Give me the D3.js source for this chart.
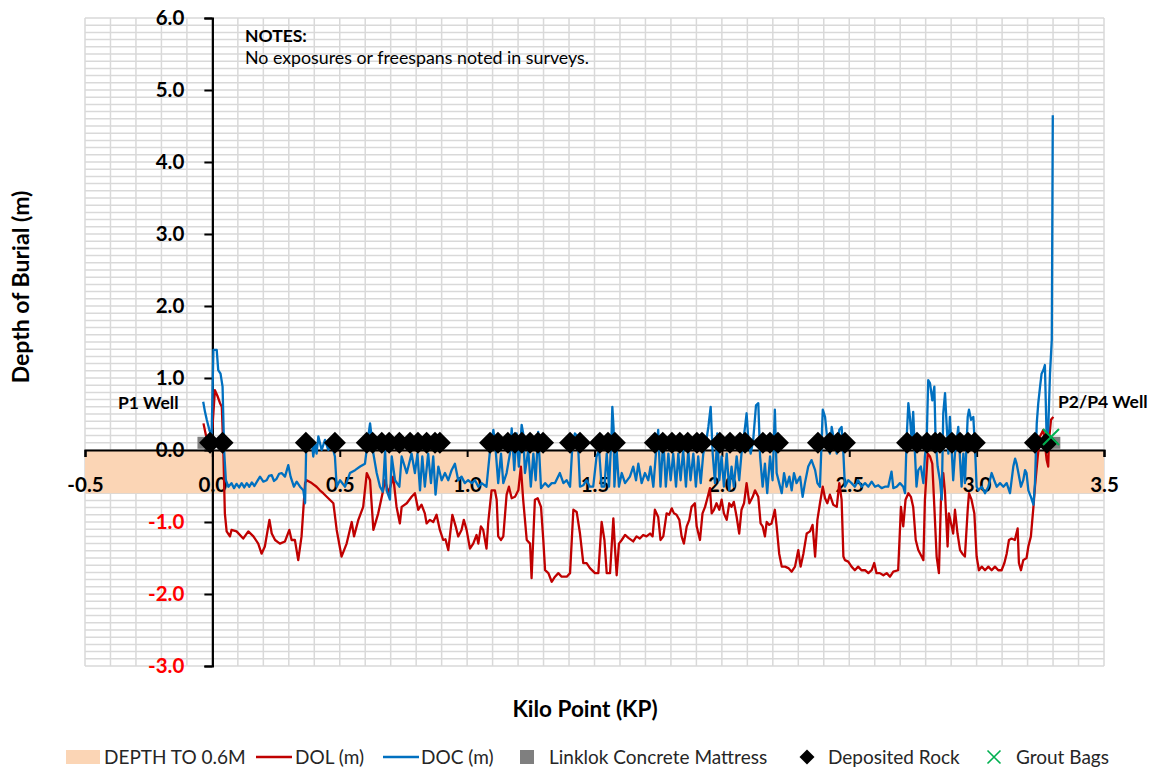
<!DOCTYPE html>
<html>
<head>
<meta charset="utf-8">
<script src="https://cdn.jsdelivr.net/npm/d3@7/dist/d3.min.js"></script>
<style>
  body { margin: 0; background: #fff; }
  svg { display: block; font-family: Lato, "Open Sans", sans-serif; }
</style>
</head>
<body>
<svg id="chart" width="1157" height="769"></svg>
<script>
// [KP, depth of lowest point]
var dolSeries = [
  [-0.035, 0.37], [-0.028, 0.25], [-0.02, 0.12], [-0.01, 0.10], [0.0, 0.30], [0.01, 0.83], [0.02, 0.75],
  [0.03, 0.65], [0.037, 0.60], [0.043, 0.0], [0.049, -0.88], [0.056, -1.13], [0.069, -1.20], [0.075, -1.11],
  [0.095, -1.13], [0.121, -1.23], [0.141, -1.13], [0.161, -1.20], [0.180, -1.30], [0.193, -1.44], [0.206, -1.34],
  [0.224, -0.97], [0.233, -1.16], [0.246, -1.25], [0.265, -1.30], [0.285, -1.27], [0.302, -1.11], [0.311, -1.25],
  [0.324, -1.25], [0.337, -1.53], [0.350, -1.20], [0.364, -0.46], [0.370, -0.42], [0.390, -0.46], [0.409, -0.51],
  [0.422, -0.56], [0.435, -0.60], [0.455, -0.67], [0.475, -0.74], [0.488, -1.11], [0.507, -1.48], [0.527, -1.30],
  [0.547, -1.00], [0.556, -1.20], [0.573, -0.97], [0.592, -0.79], [0.606, -0.32], [0.619, -0.42], [0.632, -1.11],
  [0.651, -0.88], [0.668, -0.60], [0.678, -0.42], [0.691, -0.60], [0.710, -0.37], [0.723, -0.79], [0.736, -1.02],
  [0.743, -0.79], [0.763, -0.74], [0.782, -0.65], [0.795, -0.60], [0.808, -0.83], [0.821, -0.76], [0.834, -0.88],
  [0.841, -1.02], [0.854, -0.97], [0.867, -1.00], [0.880, -0.90], [0.893, -1.11], [0.906, -1.25], [0.915, -1.24],
  [0.926, -1.39], [0.942, -0.90], [0.955, -1.06], [0.965, -1.20], [0.978, -1.11], [0.987, -0.97], [0.998, -1.11],
  [1.011, -1.37], [1.024, -1.30], [1.037, -1.18], [1.044, -1.30], [1.054, -1.06], [1.063, -1.11], [1.076, -1.37],
  [1.083, -1.00], [1.096, -0.56], [1.109, -0.56], [1.116, -0.69], [1.122, -1.20], [1.133, -1.25], [1.142, -1.20],
  [1.155, -0.62], [1.164, -0.51], [1.175, -0.67], [1.188, -0.65], [1.201, -0.56], [1.211, -0.23], [1.220, -0.69],
  [1.234, -1.25], [1.247, -1.30], [1.253, -1.78], [1.266, -0.69], [1.277, -0.67], [1.290, -0.79], [1.299, -1.25],
  [1.306, -1.67], [1.319, -1.71], [1.332, -1.83], [1.345, -1.76], [1.358, -1.71], [1.371, -1.76], [1.391, -1.76],
  [1.404, -1.71], [1.417, -0.83], [1.430, -0.86], [1.443, -1.16], [1.456, -1.57], [1.469, -1.57], [1.482, -1.64],
  [1.502, -1.71], [1.515, -1.71], [1.528, -1.00], [1.539, -1.25], [1.548, -1.71], [1.561, -1.71], [1.574, -0.95],
  [1.580, -1.34], [1.587, -1.74], [1.596, -1.30], [1.607, -1.25], [1.620, -1.18], [1.633, -1.22], [1.652, -1.27],
  [1.665, -1.20], [1.678, -1.23], [1.691, -1.18], [1.704, -1.20], [1.718, -1.16], [1.728, -1.20], [1.737, -0.83],
  [1.750, -0.93], [1.759, -1.25], [1.770, -1.20], [1.783, -0.88], [1.793, -0.90], [1.803, -0.81], [1.812, -0.88],
  [1.822, -0.90], [1.833, -0.97], [1.842, -1.20], [1.851, -1.30], [1.862, -1.06], [1.872, -0.97], [1.881, -0.79],
  [1.894, -0.74], [1.901, -1.06], [1.914, -1.25], [1.924, -0.88], [1.934, -0.79], [1.943, -0.67], [1.953, -0.53],
  [1.960, -0.88], [1.969, -0.83], [1.979, -0.74], [1.990, -0.83], [1.999, -0.69], [2.008, -0.88], [2.019, -0.97],
  [2.029, -0.74], [2.038, -0.79], [2.047, -0.72], [2.058, -0.93], [2.068, -1.16], [2.077, -0.83], [2.087, -0.74],
  [2.097, -0.46], [2.108, -0.74], [2.121, -0.65], [2.130, -0.56], [2.143, -0.65], [2.152, -1.02], [2.160, -1.06],
  [2.169, -1.20], [2.176, -1.00], [2.186, -1.04], [2.195, -1.02], [2.208, -0.83], [2.215, -1.06], [2.225, -1.44],
  [2.235, -1.62], [2.248, -1.62], [2.261, -1.64], [2.274, -1.69], [2.287, -1.62], [2.300, -1.39], [2.309, -1.62],
  [2.320, -1.44], [2.333, -1.16], [2.346, -1.13], [2.356, -1.04], [2.366, -1.48], [2.375, -0.97], [2.385, -0.74],
  [2.396, -0.51], [2.405, -0.67], [2.414, -0.74], [2.424, -0.62], [2.437, -0.76], [2.451, -0.79], [2.461, -0.46],
  [2.470, -0.69], [2.477, -1.48], [2.483, -1.53], [2.496, -1.55], [2.509, -1.62], [2.522, -1.67], [2.535, -1.62],
  [2.548, -1.67], [2.562, -1.67], [2.575, -1.71], [2.588, -1.67], [2.598, -1.57], [2.607, -1.71], [2.620, -1.71],
  [2.634, -1.74], [2.647, -1.71], [2.660, -1.76], [2.673, -1.69], [2.692, -1.67], [2.703, -0.79], [2.712, -1.06],
  [2.721, -0.69], [2.732, -0.60], [2.742, -0.65], [2.751, -0.79], [2.761, -1.25], [2.771, -1.39], [2.784, -1.48],
  [2.791, -1.53], [2.797, -0.69], [2.808, -0.05], [2.817, -0.09], [2.826, -0.19], [2.834, -0.79], [2.843, -1.48],
  [2.852, -1.71], [2.860, -0.69], [2.869, -0.32], [2.876, -0.60], [2.886, -1.34], [2.891, -0.88], [2.902, -1.06],
  [2.908, -1.16], [2.915, -0.83], [2.925, -1.16], [2.935, -1.39], [2.944, -1.44], [2.954, -1.48], [2.965, -0.83],
  [2.970, -0.60], [2.980, -0.69], [2.991, -0.88], [3.000, -1.48], [3.009, -1.67], [3.020, -1.62], [3.033, -1.67],
  [3.046, -1.62], [3.059, -1.67], [3.072, -1.62], [3.085, -1.67], [3.098, -1.67], [3.109, -1.57], [3.118, -1.44],
  [3.127, -1.25], [3.137, -1.23], [3.150, -1.25], [3.161, -1.09], [3.166, -1.57], [3.174, -1.67], [3.183, -1.53],
  [3.196, -1.50], [3.203, -1.34], [3.213, -1.20], [3.223, -0.79], [3.229, -0.51], [3.240, -0.09], [3.249, 0.19],
  [3.262, 0.28], [3.275, -0.14], [3.281, -0.23], [3.284, 0.14], [3.292, 0.42], [3.301, 0.46]
];

// [KP, depth of cover]
var docSeries = [
  [-0.036, 0.67], [-0.029, 0.53], [-0.022, 0.42], [-0.012, 0.28], [-0.003, 0.19], [0.004, 1.39], [0.017, 1.39],
  [0.023, 1.11], [0.032, 1.06], [0.040, 0.88], [0.046, 0.0], [0.053, -0.42], [0.063, -0.51], [0.075, -0.46],
  [0.085, -0.53], [0.095, -0.47], [0.105, -0.52], [0.115, -0.46], [0.125, -0.52], [0.135, -0.46], [0.145, -0.51],
  [0.155, -0.45], [0.165, -0.50], [0.175, -0.44], [0.187, -0.37], [0.200, -0.44], [0.213, -0.42], [0.222, -0.36],
  [0.233, -0.35], [0.242, -0.43], [0.252, -0.40], [0.262, -0.33], [0.272, -0.32], [0.285, -0.37], [0.298, -0.21],
  [0.307, -0.37], [0.320, -0.51], [0.331, -0.44], [0.344, -0.51], [0.357, -0.56], [0.364, -0.74], [0.368, 0.0],
  [0.373, 0.19], [0.390, 0.14], [0.396, -0.09], [0.403, 0.09], [0.409, -0.05], [0.416, 0.19], [0.429, 0.0],
  [0.442, 0.14], [0.455, 0.0], [0.468, 0.09], [0.481, -0.09], [0.488, -0.51], [0.501, -0.42], [0.521, -0.51],
  [0.540, -0.32], [0.560, -0.28], [0.580, -0.23], [0.599, -0.19], [0.612, 0.19], [0.619, 0.37], [0.625, 0.19],
  [0.632, -0.05], [0.645, -0.32], [0.658, -0.51], [0.669, -0.58], [0.678, 0.0], [0.684, -0.56], [0.697, -0.69],
  [0.704, -0.09], [0.717, -0.42], [0.734, -0.51], [0.743, -0.09], [0.763, -0.32], [0.782, -0.05], [0.795, -0.32],
  [0.805, -0.05], [0.815, -0.56], [0.824, -0.09], [0.834, -0.51], [0.847, -0.05], [0.858, -0.46], [0.867, -0.09],
  [0.876, -0.62], [0.887, -0.23], [0.900, -0.42], [0.913, -0.32], [0.926, -0.42], [0.939, -0.28], [0.952, -0.19],
  [0.965, -0.42], [0.978, -0.37], [0.991, -0.46], [1.004, -0.42], [1.018, -0.46], [1.031, -0.42], [1.044, -0.51],
  [1.057, -0.46], [1.076, -0.51], [1.090, 0.0], [1.103, 0.28], [1.112, 0.0], [1.122, -0.46], [1.133, -0.05],
  [1.142, -0.46], [1.155, -0.32], [1.168, -0.05], [1.175, 0.30], [1.185, -0.28], [1.194, 0.23], [1.203, -0.23],
  [1.214, 0.35], [1.220, 0.23], [1.227, -0.32], [1.240, 0.0], [1.250, -0.51], [1.260, -0.05], [1.269, -0.42],
  [1.279, 0.25], [1.290, -0.53], [1.306, -0.46], [1.319, -0.51], [1.332, -0.46], [1.345, -0.46], [1.364, -0.32],
  [1.378, -0.46], [1.391, -0.42], [1.404, -0.51], [1.413, 0.05], [1.423, 0.23], [1.434, 0.19], [1.443, -0.51],
  [1.456, -0.49], [1.469, -0.42], [1.482, -0.51], [1.495, -0.51], [1.508, -0.09], [1.518, 0.0], [1.528, -0.51],
  [1.539, -0.51], [1.548, -0.05], [1.557, -0.51], [1.567, 0.23], [1.570, 0.60], [1.575, 0.30], [1.578, -0.51],
  [1.587, 0.0], [1.596, -0.51], [1.607, -0.32], [1.620, -0.46], [1.639, -0.37], [1.652, -0.23], [1.663, -0.42],
  [1.672, -0.19], [1.685, -0.46], [1.698, -0.32], [1.711, -0.42], [1.720, -0.23], [1.731, -0.51], [1.741, -0.05],
  [1.750, 0.28], [1.759, -0.51], [1.770, 0.14], [1.780, -0.51], [1.790, -0.05], [1.799, -0.42], [1.809, -0.05],
  [1.820, -0.51], [1.829, -0.05], [1.838, -0.42], [1.848, 0.0], [1.859, -0.51], [1.868, 0.0], [1.877, -0.42],
  [1.888, -0.05], [1.898, -0.51], [1.907, -0.09], [1.917, -0.46], [1.927, -0.05], [1.937, 0.09], [1.947, 0.32],
  [1.956, 0.60], [1.964, -0.05], [1.973, -0.46], [1.982, 0.23], [1.990, -0.42], [1.999, -0.09], [2.008, -0.51],
  [2.019, -0.05], [2.029, -0.56], [2.038, -0.23], [2.047, -0.51], [2.058, -0.09], [2.068, -0.42], [2.077, -0.05],
  [2.091, 0.32], [2.097, 0.51], [2.104, 0.14], [2.113, -0.05], [2.123, 0.14], [2.134, 0.62], [2.143, 0.65],
  [2.150, -0.09], [2.160, -0.51], [2.169, -0.19], [2.178, -0.60], [2.189, -0.09], [2.199, -0.42], [2.208, 0.56],
  [2.215, -0.32], [2.225, -0.46], [2.235, -0.60], [2.244, -0.32], [2.254, -0.51], [2.265, -0.37], [2.274, -0.56],
  [2.283, -0.32], [2.293, -0.46], [2.307, -0.37], [2.317, -0.65], [2.326, -0.46], [2.339, -0.23], [2.352, -0.14],
  [2.366, -0.28], [2.375, -0.46], [2.385, -0.51], [2.396, 0.56], [2.405, 0.46], [2.414, 0.14], [2.424, -0.05],
  [2.431, 0.32], [2.440, 0.14], [2.451, -0.05], [2.461, 0.28], [2.470, 0.32], [2.477, -0.05], [2.483, -0.51],
  [2.496, -0.42], [2.509, -0.46], [2.522, -0.51], [2.535, -0.42], [2.548, -0.51], [2.562, -0.46], [2.575, -0.51],
  [2.588, -0.44], [2.601, -0.51], [2.614, -0.49], [2.627, -0.53], [2.640, -0.51], [2.653, -0.51], [2.666, -0.30],
  [2.673, -0.53], [2.686, -0.51], [2.699, -0.46], [2.712, -0.51], [2.719, -0.60], [2.725, 0.14], [2.732, 0.65],
  [2.738, 0.46], [2.745, 0.14], [2.751, 0.53], [2.758, -0.05], [2.764, -0.51], [2.771, -0.28], [2.781, -0.23],
  [2.791, -0.46], [2.797, -0.09], [2.804, 0.14], [2.810, 0.97], [2.817, 0.93], [2.826, 0.69], [2.834, 0.88],
  [2.839, 0.14], [2.847, -0.23], [2.856, -0.42], [2.863, -0.69], [2.869, 0.51], [2.876, 0.79], [2.882, 0.37],
  [2.889, -0.05], [2.895, 0.46], [2.902, 0.0], [2.908, -0.42], [2.915, -0.05], [2.922, 0.14], [2.928, 0.32],
  [2.935, -0.14], [2.941, -0.51], [2.948, -0.05], [2.954, -0.46], [2.965, 0.46], [2.970, 0.56], [2.978, 0.42],
  [2.987, 0.46], [2.994, 0.0], [3.000, -0.51], [3.007, -0.56], [3.020, -0.51], [3.033, -0.60], [3.046, -0.51],
  [3.059, -0.32], [3.069, -0.42], [3.079, -0.51], [3.092, -0.46], [3.105, -0.51], [3.118, -0.46], [3.131, -0.60],
  [3.144, -0.23], [3.151, -0.12], [3.157, -0.19], [3.164, -0.32], [3.174, -0.51], [3.183, -0.42], [3.190, -0.28],
  [3.196, -0.32], [3.203, -0.56], [3.213, -0.65], [3.223, -0.76], [3.229, -0.46], [3.236, 0.37], [3.242, 0.65],
  [3.249, 0.88], [3.255, 1.06], [3.262, 1.11], [3.268, 1.18], [3.275, 0.14], [3.281, 0.28], [3.288, 1.06],
  [3.295, 1.53], [3.299, 4.65]
];

var rockKP = [
  -0.009, 0.040, 0.367, 0.481, 0.606, 0.629, 0.665, 0.694, 0.734, 0.776, 0.807, 0.841, 0.874, 0.893,
  1.090, 1.121, 1.160, 1.188, 1.215, 1.247, 1.278, 1.298, 1.404, 1.443, 1.521, 1.553, 1.580,
  1.737, 1.768, 1.804, 1.835, 1.866, 1.902, 1.922, 1.992, 2.032, 2.071, 2.091, 2.161, 2.189, 2.220,
  2.377, 2.424, 2.455, 2.483, 2.727, 2.766, 2.805, 2.837, 2.856, 2.903, 2.935, 2.966, 2.993, 3.229, 3.276
];
var rockDepth = 0.1;
var mattressKP = [-0.035, 3.305];
var mattressDepth = 0.1;
var groutKP = [3.292];
var groutDepth = 0.18;
var bandDepth = -0.6;

var kpTicks = [-0.5, 0.0, 0.5, 1.0, 1.5, 2.0, 2.5, 3.0, 3.5];
var depthTicks = [-3, -2, -1, 0, 1, 2, 3, 4, 5, 6];
var wellLabels = [
  { text: 'P1 Well', x: 118, y: 409 },
  { text: 'P2/P4 Well', x: 1058, y: 408 }
];
var legendItems = [
  { key: 'band', label: 'DEPTH TO 0.6M', sx: 66, tx: 104 },
  { key: 'dol', label: 'DOL (m)', sx: 256, tx: 295 },
  { key: 'doc', label: 'DOC (m)', sx: 383, tx: 421 },
  { key: 'mattress', label: 'Linklok Concrete Mattress', sx: 520, tx: 549 },
  { key: 'rock', label: 'Deposited Rock', sx: 800, tx: 828 },
  { key: 'grout', label: 'Grout Bags', sx: 987, tx: 1016 }
];

(function () {
  var RED = '#c00000';
  var BLUE = '#0070c0';
  var GREY = '#7f7f7f';
  var GREEN = '#00b050';
  var BAND = '#fbd5b5';

  var svg = d3.select('#chart');
  var x = d3.scaleLinear().domain([-0.5, 3.5]).range([85, 1104]);
  var y = d3.scaleLinear().domain([-3, 6]).range([666, 18]);

  // Excel writes a plain hyphen, not the unicode minus d3.format gives
  var fmt = function (d) { return d3.format('.1f')(d).replace('\u2212', '-'); };

  // minor grid every 0.1 in both directions
  var gridX = d3.range(-5, 36).map(function (i) { return i / 10; });
  var gridY = d3.range(-30, 61).map(function (i) { return i / 10; });
  var grid = svg.append('g').attr('stroke', '#d9d9d9').attr('stroke-width', 1.5);
  grid.selectAll('line.gx').data(gridX).enter().append('line')
      .attr('class', 'gx')
      .attr('x1', function (d) { return x(d); })
      .attr('x2', function (d) { return x(d); })
      .attr('y1', y(6))
      .attr('y2', y(-3));
  grid.selectAll('line.gy').data(gridY).enter().append('line')
      .attr('class', 'gy')
      .attr('x1', x(-0.5))
      .attr('x2', x(3.5))
      .attr('y1', function (d) { return y(d); })
      .attr('y2', function (d) { return y(d); });

  svg.append('rect')
      .attr('x', x(-0.5))
      .attr('y', y(0))
      .attr('width', x(3.5) - x(-0.5))
      .attr('height', y(bandDepth) - y(0))
      .attr('fill', BAND);

  // axes
  var yAxis = d3.axisLeft(y).tickValues(depthTicks).tickSize(8).tickPadding(20).tickFormat(fmt);
  var yg = svg.append('g').attr('transform', 'translate(' + x(0) + ',0)').call(yAxis);
  yg.select('.domain').attr('stroke', '#000').attr('stroke-width', 2.2);
  yg.selectAll('.tick line').attr('stroke', '#000').attr('stroke-width', 2);
  yg.selectAll('.tick text')
      .attr('font-family', 'Lato, sans-serif')
      .attr('font-size', 20.5)
      .attr('font-weight', 'bold')
      .attr('fill', function (d) { return d < 0 ? '#ff0000' : '#000'; });

  var xAxis = d3.axisBottom(x).tickValues(kpTicks).tickSize(7).tickPadding(20).tickFormat(fmt);
  var xg = svg.append('g').attr('transform', 'translate(0,' + y(0) + ')').call(xAxis);
  xg.select('.domain').attr('stroke', '#000').attr('stroke-width', 2.2);
  xg.selectAll('.tick line').attr('stroke', '#000').attr('stroke-width', 2);
  xg.selectAll('.tick text')
      .attr('font-family', 'Lato, sans-serif')
      .attr('font-size', 20.5)
      .attr('font-weight', 'bold')
      .attr('fill', '#000');

  var line = d3.line()
      .x(function (d) { return x(d[0]); })
      .y(function (d) { return y(d[1]); });

  svg.append('path').datum(dolSeries)
      .attr('d', line)
      .attr('fill', 'none')
      .attr('stroke', RED)
      .attr('stroke-width', 2.3)
      .attr('stroke-linejoin', 'round');

  svg.append('path').datum(docSeries)
      .attr('d', line)
      .attr('fill', 'none')
      .attr('stroke', BLUE)
      .attr('stroke-width', 2.3)
      .attr('stroke-linejoin', 'round');

  var diamond = function (r) {
    return 'M0,' + (-r) + 'L' + r + ',0L0,' + r + 'L' + (-r) + ',0Z';
  };
  var cross = function (r) {
    return 'M' + (-r) + ',' + (-r) + 'L' + r + ',' + r + 'M' + (-r) + ',' + r + 'L' + r + ',' + (-r);
  };

  svg.selectAll('rect.mattress').data(mattressKP).enter().append('rect')
      .attr('class', 'mattress')
      .attr('x', function (d) { return x(d) - 6; })
      .attr('y', y(mattressDepth) - 6)
      .attr('width', 12)
      .attr('height', 12)
      .attr('fill', GREY);

  svg.selectAll('path.rock').data(rockKP).enter().append('path')
      .attr('class', 'rock')
      .attr('transform', function (d) { return 'translate(' + x(d) + ',' + y(rockDepth) + ')'; })
      .attr('d', diamond(11))
      .attr('fill', '#000');

  svg.selectAll('path.grout').data(groutKP).enter().append('path')
      .attr('class', 'grout')
      .attr('transform', function (d) { return 'translate(' + x(d) + ',' + y(groutDepth) + ')'; })
      .attr('d', cross(8))
      .attr('stroke', GREEN)
      .attr('stroke-width', 2);

  // titles and notes
  svg.append('text')
      .attr('transform', 'translate(29,287) rotate(-90)')
      .attr('text-anchor', 'middle')
      .attr('font-size', 23)
      .attr('font-weight', 'bold')
      .text('Depth of Burial (m)');

  svg.append('text')
      .attr('x', 585)
      .attr('y', 717)
      .attr('text-anchor', 'middle')
      .attr('font-size', 22.5)
      .attr('font-weight', 'bold')
      .text('Kilo Point (KP)');

  svg.append('text').attr('x', 245).attr('y', 42)
      .attr('font-size', 17.5).attr('font-weight', 'bold').text('NOTES:');
  svg.append('text').attr('x', 245).attr('y', 64)
      .attr('font-size', 17.8).text('No exposures or freespans noted in surveys.');

  svg.selectAll('text.well').data(wellLabels).enter().append('text')
      .attr('class', 'well')
      .attr('x', function (d) { return d.x; })
      .attr('y', function (d) { return d.y; })
      .attr('font-size', 17.5)
      .attr('font-weight', 'bold')
      .text(function (d) { return d.text; });

  // legend
  var ly = 757;
  var legend = svg.append('g');
  legendItems.forEach(function (item) {
    if (item.key === 'band') {
      legend.append('rect').attr('x', item.sx).attr('y', ly - 7).attr('width', 34).attr('height', 14).attr('fill', BAND);
    } else if (item.key === 'dol' || item.key === 'doc') {
      legend.append('line').attr('x1', item.sx).attr('x2', item.sx + 36).attr('y1', ly).attr('y2', ly)
          .attr('stroke', item.key === 'dol' ? RED : BLUE).attr('stroke-width', 2.3);
    } else if (item.key === 'mattress') {
      legend.append('rect').attr('x', item.sx).attr('y', ly - 7).attr('width', 14).attr('height', 14).attr('fill', GREY);
    } else if (item.key === 'rock') {
      legend.append('path').attr('transform', 'translate(' + (item.sx + 7) + ',' + ly + ')')
          .attr('d', diamond(7.5)).attr('fill', '#000');
    } else {
      legend.append('path').attr('transform', 'translate(' + (item.sx + 7) + ',' + ly + ')')
          .attr('d', cross(6.5)).attr('stroke', GREEN).attr('stroke-width', 1.6);
    }
    legend.append('text')
        .attr('x', item.tx)
        .attr('y', ly + 7)
        .attr('font-size', 19)
        .attr('fill', '#262626')
        .text(item.label);
  });
})();
</script>
</body>
</html>
